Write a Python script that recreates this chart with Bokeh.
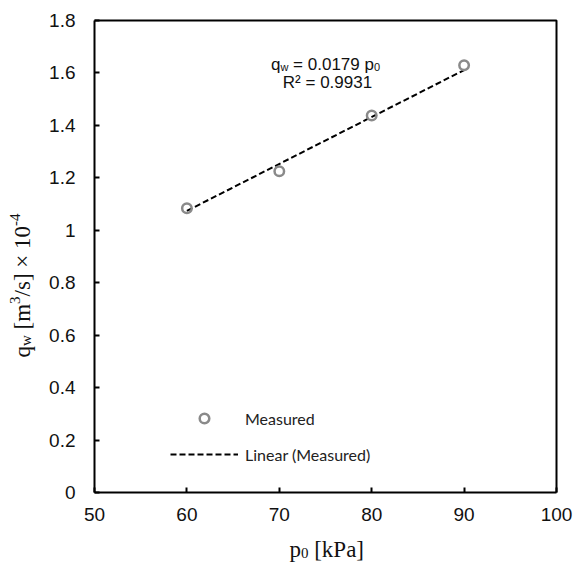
import math
from bokeh.plotting import figure
from bokeh.models import Label, Legend, LegendItem, FixedTicker, Range1d
from bokeh.embed import file_html
from bokeh.resources import INLINE

# ---- data ----
p0 = [60, 70, 80, 90]
qw = [1.084, 1.225, 1.438, 1.629]
slope = 0.0179
r2 = 0.9931
x_ticks = [50, 60, 70, 80, 90, 100]
y_ticks = [0, 0.2, 0.4, 0.6, 0.8, 1.0, 1.2, 1.4, 1.6, 1.8]
y_tick_labels = ["0", "0.2", "0.4", "0.6", "0.8", "1", "1.2", "1.4", "1.6", "1.8"]

# ---- layout (pixels) ----
W, H = 576, 562
L, R, T, B = 94, 20, 20, 70
xmin, xmax = x_ticks[0], x_ticks[-1]
ymin, ymax = y_ticks[0], y_ticks[-1]
kx = (W - L - R) / (xmax - xmin)
ky = (H - T - B) / (ymax - ymin)

p = figure(width=W, height=H, output_backend="svg", toolbar_location=None,
           x_range=Range1d(xmin - L / kx, xmax + R / kx),
           y_range=Range1d(ymin - B / ky, ymax + T / ky),
           min_border=0, min_border_left=0, min_border_right=0,
           min_border_top=0, min_border_bottom=0)
p.background_fill_color = "white"
p.border_fill_color = "white"
p.grid.visible = False
p.outline_line_color = None

p.xaxis.fixed_location = ymin
p.yaxis.fixed_location = xmin
p.xaxis.bounds = (xmin, xmax)
p.yaxis.bounds = (ymin, ymax)

for ax in (p.xaxis[0], p.yaxis[0]):
    ax.axis_line_width = 2
    ax.axis_line_color = "black"
    ax.major_tick_line_width = 2
    ax.major_tick_line_color = "black"
    ax.major_tick_in = 5
    ax.major_tick_out = 0
    ax.minor_tick_line_color = None
    ax.major_label_text_font = "Liberation Sans"
    ax.major_label_text_font_size = "19px"
    ax.major_label_text_color = "#111111"

p.xaxis.ticker = FixedTicker(ticks=x_ticks)
p.xaxis.major_label_standoff = 15
p.yaxis.ticker = FixedTicker(ticks=y_ticks)
p.yaxis.major_label_overrides = {t: s for t, s in zip(y_ticks, y_tick_labels)}
p.yaxis.major_label_standoff = 19

# plot-area border (top and right edges)
p.line([xmin, xmax, xmax], [ymax, ymax, ymin], line_color="black", line_width=2)

# trendline through origin
tx = [min(p0), max(p0)]
ty = [slope * v for v in tx]
line_r = p.line(tx, ty, line_color="black", line_width=2, line_dash="6 3")
pts_r = p.scatter(p0, qw, size=9.5, marker="circle", fill_color=None,
                  line_color="#8a8a8a", line_width=2.5)

legend = Legend(items=[LegendItem(label="Measured", renderers=[pts_r]),
                       LegendItem(label="Linear (Measured)", renderers=[line_r])],
                location=(170, H - 466), orientation="vertical",
                glyph_width=68, glyph_height=24, label_height=24, spacing=12,
                label_standoff=7, padding=0, margin=0,
                border_line_color=None, background_fill_alpha=0,
                label_text_font="Lato", label_text_font_size="16px",
                label_text_color="#222222")
p.add_layout(legend, "center")

x_left = xmin - L / kx
y_top = ymax + T / ky


def lab(text, px, py, font, size, angle=0.0, align="left", color="#111111"):
    p.add_layout(Label(x=x_left + px / kx, y=y_top - py / ky, text=text,
                       text_font=font, text_font_size=f"{size}px", angle=angle,
                       text_align=align, text_baseline="alphabetic", text_color=color))


# annotation: q_w = 0.0179 p0 / R² = 0.9931
S1, s1 = 17, 11
x0 = 270.5
a = x0
by1, by2 = 64, 82
lab("q", a, by1, "Liberation Sans", S1); a += 0.556 * S1
lab("w", a, by1 + 2.5, "Liberation Sans", s1); a += 0.722 * s1 + 0.278 * S1
lab(f"= {slope} p", a, by1, "Liberation Sans", S1); a += 4.754 * S1
lab("0", a, by1 + 2.5, "Liberation Sans", s1)
lab(f"R\u00b2 = {r2}", 327, by2, "Liberation Sans", S1, align="center")

# x axis label: p0 [kPa]
S, s = 23, 15
xl = 325 - (0.5 * S + 0.5 * s + 2.309 * S) / 2
bxl = 549
lab("p", xl, bxl, "Liberation Serif", S)
lab("0", xl + 0.5 * S, bxl + 3, "Liberation Serif", s)
lab("[kPa]", xl + 0.5 * S + 0.5 * s + 0.25 * S, bxl, "Liberation Serif", S)

# y axis label: q_w [m3/s] x 10^-4 (rotated)
bx = 22
pieces = [("q", S, 0, 0.5 * S), ("w", s, 3, 0.722 * s + 0.25 * S), ("[m", S, 0, 1.111 * S),
          ("3", s, -8, 0.5 * s), ("/s] \u00d7 10", S, 0, 3.064 * S), ("-4", s, -8, 0.833 * s)]
total = sum(w for *_, w in pieces)
y0 = 285 + total / 2
d = 0.0
for txt, sz, sh, w in pieces:
    lab(txt, bx + sh, y0 - d, "Liberation Serif", sz, angle=math.pi / 2)
    d += w

open("out.html", "w").write(file_html(p, INLINE))
